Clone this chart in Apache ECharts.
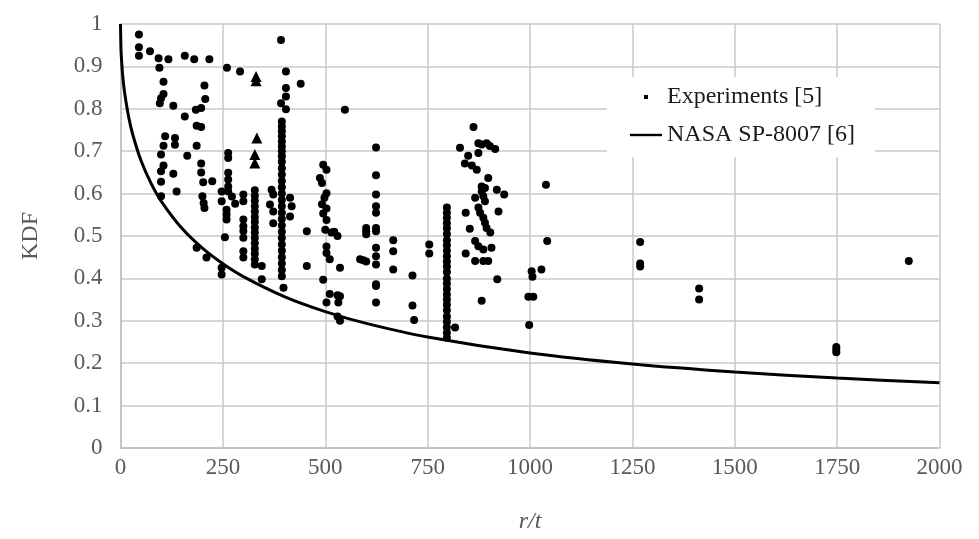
<!DOCTYPE html>
<html>
<head>
<meta charset="utf-8">
<script src="https://cdn.jsdelivr.net/npm/echarts@6/dist/echarts.min.js"></script>
<style>html,body{margin:0;padding:0;background:#fff}#c{width:979px;height:539px}</style>
</head>
<body>
<div id="c"></div>
<script>
var xTicks = [0, 250, 500, 750, 1000, 1250, 1500, 1750, 2000];
var yTicks = [0, 0.1, 0.2, 0.3, 0.4, 0.5, 0.6, 0.7, 0.8, 0.9, 1];

var experiments = [
  [45,0.975],[45,0.945],[45,0.925],[72,0.936],[93,0.919],[117,0.917],[95,0.897],[157,0.925],[180,0.917],[217,0.917],[260,0.897],[292,0.888],
  [105,0.864],[205,0.855],[105,0.835],[207,0.823],[99,0.825],[96,0.813],[129,0.807],[184,0.798],[197,0.802],[157,0.782],[186,0.760],[197,0.757],
  [109,0.735],[133,0.731],[133,0.715],[186,0.713],[105,0.713],
  [99,0.692],[163,0.689],[263,0.696],[263,0.684],[105,0.666],[99,0.653],[129,0.647],[197,0.671],[197,0.650],[202,0.627],[224,0.629],[99,0.628],
  [137,0.605],[263,0.649],[263,0.633],[263,0.617],[263,0.605],[247,0.605],[200,0.594],[203,0.578],[205,0.566],[99,0.594],[247,0.582],[280,0.576],
  [272,0.593],[259,0.562],[259,0.551],[259,0.539],[255,0.497],[186,0.472],[210,0.449],[247,0.425],[247,0.409],
  [300,0.598],[300,0.582],[300,0.539],[300,0.523],[300,0.512],[300,0.496],[300,0.464],[300,0.449],
  [328,0.608],[328,0.595],[328,0.583],[328,0.570],[328,0.558],[328,0.545],[328,0.533],[328,0.520],[328,0.508],[328,0.495],[328,0.483],
  [328,0.470],[328,0.458],[328,0.445],[328,0.433],[345,0.429],[345,0.398],
  [392,0.962],[404,0.888],[440,0.859],[404,0.849],[404,0.829],[392,0.813],[404,0.799],
  [394,0.770],[394,0.758],[394,0.747],[394,0.735],[394,0.723],[394,0.711],[394,0.700],[394,0.688],[394,0.675],[394,0.660],[394,0.645],
  [394,0.630],[394,0.615],[394,0.600],[394,0.585],[394,0.570],[394,0.555],[394,0.540],[394,0.525],[394,0.510],[394,0.495],[394,0.480],
  [394,0.465],[394,0.450],[394,0.435],[394,0.420],[394,0.405],[398,0.378],
  [414,0.590],[418,0.570],[414,0.546],[369,0.609],[373,0.598],[365,0.574],[373,0.558],[373,0.530],
  [455,0.511],[455,0.429],
  [495,0.668],[503,0.656],[487,0.637],[492,0.625],[503,0.601],[498,0.590],[492,0.575],[503,0.565],[495,0.553],[503,0.538],[500,0.515],
  [515,0.508],[522,0.510],[530,0.500],[503,0.475],[503,0.460],[511,0.445],[536,0.425],[495,0.397],[511,0.363],[530,0.360],[503,0.343],
  [532,0.343],[530,0.310],[536,0.300],[536,0.358],[548,0.798],
  [600,0.519],[600,0.511],[600,0.504],[585,0.445],[593,0.443],[600,0.440],
  [624,0.709],[624,0.643],[624,0.598],[624,0.570],[624,0.555],[624,0.519],[624,0.511],[624,0.472],[624,0.452],[624,0.433],[624,0.386],
  [624,0.382],[624,0.343],
  [666,0.490],[666,0.464],[666,0.421],[713,0.407],[713,0.336],[717,0.302],[754,0.480],[754,0.459],
  [797,0.567],[797,0.555],[797,0.543],[797,0.530],[797,0.518],[797,0.505],[797,0.490],[797,0.478],[797,0.465],[797,0.452],[797,0.440],
  [797,0.428],[797,0.415],[797,0.400],[797,0.388],[797,0.375],[797,0.362],[797,0.350],[797,0.338],[797,0.325],[797,0.310],[797,0.298],
  [797,0.285],[797,0.272],[797,0.260],[817,0.284],
  [862,0.757],[829,0.708],[874,0.719],[882,0.716],[894,0.719],[902,0.712],[915,0.705],[849,0.689],[874,0.696],[841,0.671],[858,0.666],
  [870,0.656],[898,0.637],[882,0.617],[890,0.613],[882,0.605],[919,0.609],[937,0.598],[886,0.594],[890,0.582],[866,0.590],[923,0.558],
  [874,0.567],[878,0.555],[886,0.543],[843,0.555],[890,0.531],[894,0.519],[903,0.508],[853,0.517],[866,0.488],[874,0.476],[886,0.468],
  [906,0.472],[843,0.459],[866,0.441],[886,0.441],[898,0.441],[920,0.398],[882,0.347],
  [1039,0.621],[1042,0.488],[1028,0.421],[1004,0.417],[1006,0.404],[996,0.357],[1008,0.357],[998,0.290],
  [1269,0.486],[1269,0.435],[1269,0.428],[1413,0.376],[1413,0.350],[1748,0.238],[1748,0.232],[1748,0.226],[1925,0.441]
];

var triangles = [[331,0.876],[331,0.866],[333,0.731],[328,0.692],[328,0.672]];

var nasaX = [0, 1, 2, 5, 10, 20, 30, 50, 75, 100, 150, 200, 250, 300, 400, 500, 600, 750, 1000, 1250, 1500, 1750, 2000];
var nasaY = [1.0, 0.945, 0.924, 0.8825, 0.8385, 0.7803, 0.7388, 0.6782, 0.6234, 0.5813, 0.5181, 0.4713, 0.4344, 0.4042, 0.3571,
             0.3217, 0.2939, 0.2617, 0.2239, 0.1979, 0.1791, 0.1650, 0.154];

var nasaData = nasaX.map(function (x, i) { return [x, nasaY[i]]; });
var triData = triangles.map(function (p) { return { value: p, symbol: 'triangle', symbolSize: 11 }; });

var FONT = 'Liberation Serif';
var chart = echarts.init(document.getElementById('c'), null, { renderer: 'canvas' });
chart.setOption({
  animation: false,
  backgroundColor: '#ffffff',
  grid: { left: 120.5, right: 39.5, top: 24, bottom: 90, containLabel: false },
  legend: {
    left: 607, top: 77,
    orient: 'vertical',
    backgroundColor: '#ffffff',
    padding: [8, 20, 10, 23],
    itemGap: 14,
    itemWidth: 32, itemHeight: 14,
    textStyle: { fontFamily: FONT, fontSize: 24, color: '#1a1a1a' },
    data: [
      { name: 'Experiments [5]', icon: 'path://M0,0 M32,14 M14,5 h4 v4 h-4 z', itemStyle: { color: '#000' } },
      { name: 'NASA SP-8007 [6]', icon: 'path://M0,0 M32,14 M0,5.8 h32 v2.4 h-32 z', itemStyle: { color: '#000' } }
    ]
  },
  xAxis: {
    type: 'value', min: 0, max: 2000, interval: 250,
    name: 'r/t', nameLocation: 'middle', nameGap: 62,
    nameTextStyle: { fontFamily: FONT, fontSize: 24, fontStyle: 'italic', color: '#595959' },
    axisLine: { show: true, lineStyle: { color: '#bfbfbf', width: 1.5 } },
    axisTick: { show: false },
    axisLabel: { fontFamily: FONT, fontSize: 23, color: '#595959', margin: 8,
      formatter: function (v) { return String(v); } },
    splitLine: { show: true, lineStyle: { color: '#c8c8c8', width: 1.5 } }
  },
  yAxis: {
    type: 'value', min: 0, max: 1, interval: 0.1,
    name: 'KDF', nameLocation: 'middle', nameGap: 78,
    nameTextStyle: { fontFamily: FONT, fontSize: 24, color: '#595959' },
    axisLine: { show: true, lineStyle: { color: '#bfbfbf', width: 1.5 } },
    axisTick: { show: false },
    axisLabel: { fontFamily: FONT, fontSize: 23, color: '#595959', margin: 18 },
    splitLine: { show: true, lineStyle: { color: '#c8c8c8', width: 1.5 } }
  },
  series: [
    {
      name: 'Experiments [5]', type: 'scatter', data: experiments,
      symbol: 'circle', symbolSize: 8, itemStyle: { color: '#000', opacity: 1 }, z: 3
    },
    {
      name: 'Experiments-tri', type: 'scatter', data: triData,
      itemStyle: { color: '#000', opacity: 1 }, z: 3
    },
    {
      name: 'NASA SP-8007 [6]', type: 'line', data: nasaData, smooth: 0.3,
      symbol: 'none', showSymbol: false,
      lineStyle: { color: '#000', width: 3 }, itemStyle: { color: '#000' }, z: 4
    }
  ]
});
</script>
</body>
</html>
